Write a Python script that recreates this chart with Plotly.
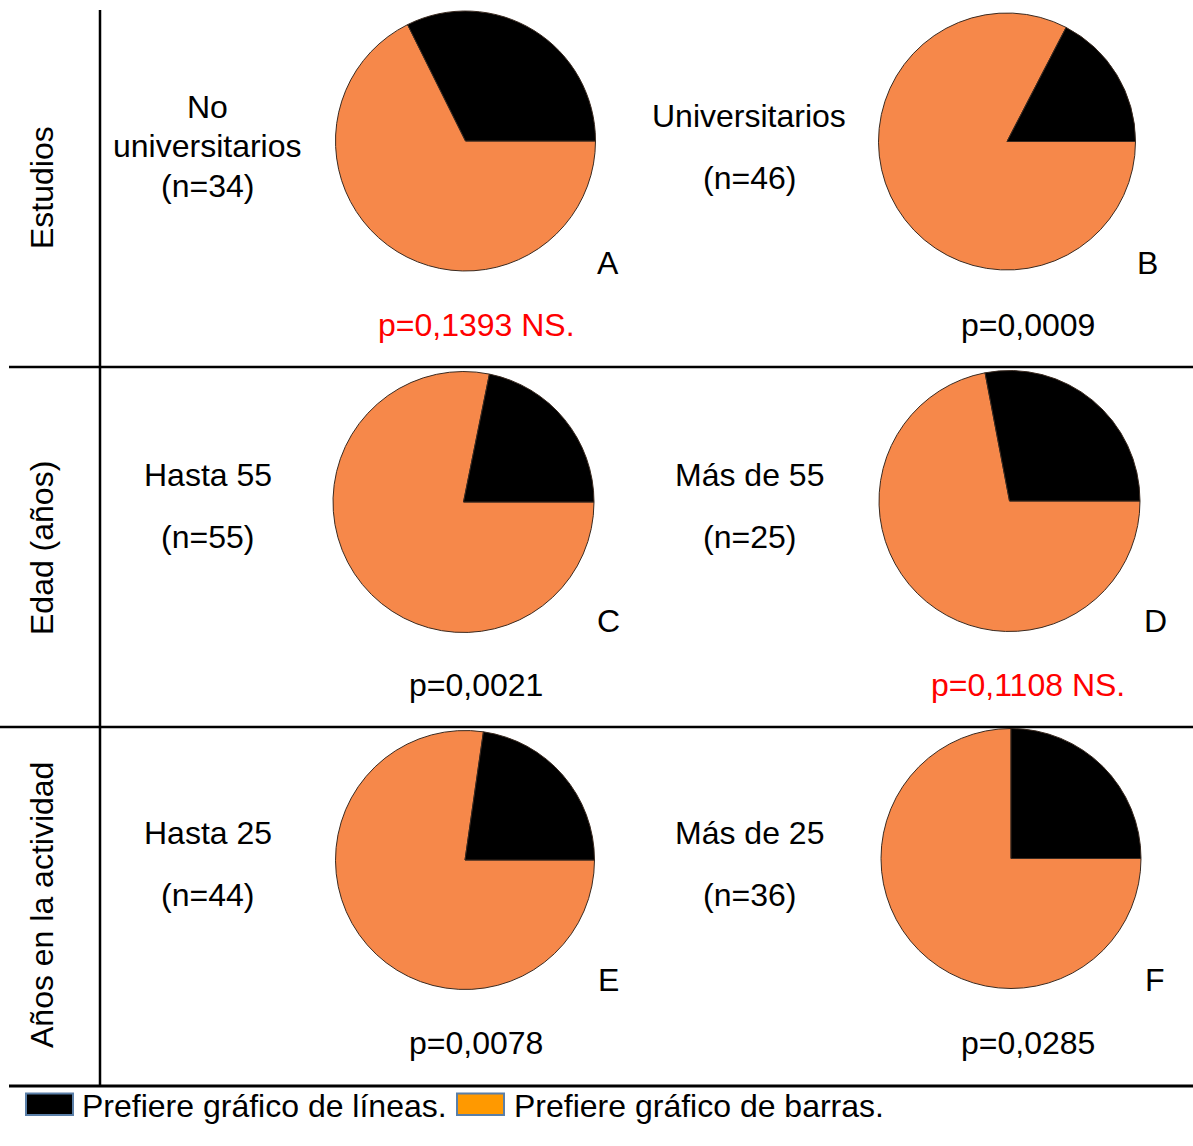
import plotly.graph_objects as go

W, H = 1193, 1146

# Counts per subgroup: [prefer line chart, prefer bar chart]
panels = ["A", "B", "C", "D", "E", "F"]
prefer_lines = [11, 8, 12, 7, 10, 9]
prefer_bars = [23, 38, 43, 18, 34, 27]
slice_labels = ["Prefiere gráfico de líneas.", "Prefiere gráfico de barras."]
p_values = ["p=0,1393 NS.", "p=0,0009", "p=0,0021", "p=0,1108 NS.", "p=0,0078", "p=0,0285"]
significant = [False, True, True, False, True, True]
row_titles = ["Estudios", "Edad (años)", "Años en la actividad"]

# Pie centres / radius (pixels) for each panel
pie_geom = [(465.5, 141, 130), (1007, 141.5, 128.5),
            (463.5, 502, 130.5), (1009.5, 501, 130.5),
            (465, 860, 129.5), (1011, 858.5, 130)]

PIE_ORANGE = "#F6884A"
FONT = "Liberation Sans, Arial, sans-serif"
FS = 32


def px(x):
    return x / W


def py(y):
    return 1 - y / H


fig = go.Figure()
for i, name in enumerate(panels):
    cx, cy, r = pie_geom[i]
    # bar-preference slice runs clockwise from 3 o'clock, so the
    # line-preference slice closes the circle just above 3 o'clock
    fig.add_trace(go.Pie(
        labels=[slice_labels[1], slice_labels[0]],
        values=[prefer_bars[i], prefer_lines[i]],
        name=name,
        sort=False,
        direction="clockwise",
        rotation=90,
        textinfo="none",
        hoverinfo="label+value+percent",
        showlegend=False,
        marker=dict(colors=[PIE_ORANGE, "#000000"],
                    line=dict(color="#3a2a20", width=1)),
        domain=dict(x=[px(cx - r), px(cx + r)], y=[py(cy + r), py(cy - r)]),
    ))

ann = []


def text(x, y, s, color="#000000", size=FS, angle=0, xanchor="center"):
    ann.append(dict(x=px(x), y=py(y), xref="paper", yref="paper", text=s,
                    showarrow=False, xanchor=xanchor, yanchor="middle",
                    textangle=angle, font=dict(family=FONT, size=size, color=color)))


def n_of(i):
    return "(n=%d)" % (prefer_lines[i] + prefer_bars[i])


# group descriptions
text(208, 107, "No")
text(208, 146, "universitarios")
text(208, 186, n_of(0))
text(749, 116, "Universitarios")
text(749, 178, n_of(1))
text(208, 475, "Hasta 55")
text(208, 537, n_of(2))
text(749, 475, "Más de 55")
text(749, 537, n_of(3))
text(208, 833, "Hasta 25")
text(208, 895, n_of(4))
text(749, 833, "Más de 25")
text(749, 895, n_of(5))

# panel letters and p-values
letter_pos = [(608, 263), (1147, 263), (608, 621), (1155, 621), (608, 980), (1155, 980)]
p_pos = [(476, 325), (1028, 325), (476, 685), (1028, 685), (476, 1043), (1028, 1043)]
for i in range(6):
    text(*letter_pos[i], panels[i])
    text(*p_pos[i], p_values[i], color="#000000" if significant[i] else "#FF0000")

# row titles
for title, yc in zip(row_titles, [188, 548, 905]):
    text(42, yc, title, angle=-90)

# legend text
text(80, 1106, slice_labels[0], xanchor="left")
text(512, 1106, slice_labels[1], xanchor="left")

shapes = []


def line(x0, y0, x1, y1, w=2.5):
    shapes.append(dict(type="line", xref="paper", yref="paper",
                       x0=px(x0), y0=py(y0), x1=px(x1), y1=py(y1),
                       line=dict(color="#000000", width=w)))


line(100, 10, 100, 1086)
line(9, 367, 1193, 367)
line(0, 727, 1193, 727)
line(9, 1086, 1193, 1086, 3)

# legend swatches
for x0, x1, fill in [(26, 73, "#000000"), (457, 504, "#FF9900")]:
    shapes.append(dict(type="rect", xref="paper", yref="paper",
                       x0=px(x0), x1=px(x1), y0=py(1115), y1=py(1093.5),
                       fillcolor=fill, line=dict(color="#5A7FA8", width=2)))

fig.update_layout(
    width=W, height=H,
    margin=dict(l=0, r=0, t=0, b=0),
    paper_bgcolor="white", plot_bgcolor="white",
    annotations=ann, shapes=shapes,
    showlegend=False,
)

fig.write_html("out.html")
